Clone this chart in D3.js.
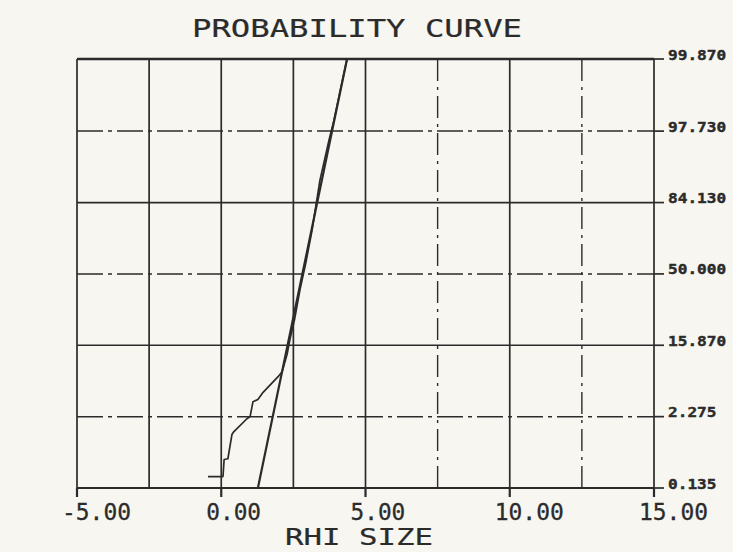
<!DOCTYPE html>
<html><head><meta charset="utf-8">
<script src="https://cdn.jsdelivr.net/npm/d3@7"></script>
<style>body{margin:0;background:#f8f6f1}svg{display:block}</style>
</head><body><svg id="c" width="733" height="552"></svg>
<script>
// ---- data ----
const xTicks = [-5, 0, 5, 10, 15];
const xTickLabels = ["-5.00", "0.00", "5.00", "10.00", "15.00"];
const xGridSolid = [-5, -2.5, 0, 2.5, 5, 10, 15];
const xGridDashed = [7.5, 12.5];
const pTicks = [99.87, 97.73, 84.13, 50, 15.87, 2.275, 0.135];
const pTickLabels = ["99.870", "97.730", "84.130", "50.000", "15.870", "2.275", "0.135"];
const pGridSolid = [84.13, 15.87];
const pGridDashed = [97.73, 50, 2.275];
// fitted normal line
const fitX = [1.27, 4.36];
const fitPct = [0.135, 99.87];
// cumulative (observed) curve
const cumX = [-0.46, 0.06, 0.10, 0.23, 0.37, 0.44, 0.89, 1.00, 1.10, 1.27, 1.45, 1.97, 2.11, 2.28, 2.38, 2.54, 2.73, 2.93, 3.15, 3.42, 3.73, 3.90, 4.36];
const cumPct = [0.226, 0.226, 0.466, 0.48, 1.22, 1.36, 2.12, 2.28, 3.67, 3.92, 4.85, 7.49, 8.53, 12.9, 17.9, 26.1, 41.3, 56.0, 73.2, 90.5, 96.9, 98.4, 99.87];
const title = "PROBABILITY CURVE";
const xTitle = "RHI SIZE";

// inverse normal CDF (probability-paper transform)
function probit(p){
  const a=[-3.969683028665376e+01,2.209460984245205e+02,-2.759285104469687e+02,1.383577518672690e+02,-3.066479806614716e+01,2.506628277459239e+00];
  const b=[-5.447609879822406e+01,1.615858368580409e+02,-1.556989798598866e+02,6.680131188771972e+01,-1.328068155288572e+01];
  const c=[-7.784894002430293e-03,-3.223964580411365e-01,-2.400758277161838e+00,-2.549671010115819e+00,4.374664141464968e+00,2.938163982698783e+00];
  const d=[7.784695709041462e-03,3.224671290700398e-01,2.445134137142996e+00,3.754408661907416e+00];
  const pl=0.02425, ph=1-pl; let q,r;
  if(p<pl){q=Math.sqrt(-2*Math.log(p));return (((((c[0]*q+c[1])*q+c[2])*q+c[3])*q+c[4])*q+c[5])/((((d[0]*q+d[1])*q+d[2])*q+d[3])*q+1);}
  if(p<=ph){q=p-0.5;r=q*q;return (((((a[0]*r+a[1])*r+a[2])*r+a[3])*r+a[4])*r+a[5])*q/(((((b[0]*r+b[1])*r+b[2])*r+b[3])*r+b[4])*r+1);}
  q=Math.sqrt(-2*Math.log(1-p));return -(((((c[0]*q+c[1])*q+c[2])*q+c[3])*q+c[4])*q+c[5])/((((d[0]*q+d[1])*q+d[2])*q+d[3])*q+1);
}

const svg = d3.select("#c");
const L = 77, R = 654, T = 59, B = 488;
const x = d3.scaleLinear().domain([-5, 15]).range([L, R]);
const z = d3.scaleLinear().domain([probit(0.00135), probit(0.9987)]).range([B, T]);
const y = p => z(probit(p / 100));
const ink = "#2b2b2b";
const font = "'DejaVu Sans Mono', monospace";

svg.append("rect").attr("width", 733).attr("height", 552).attr("fill", "#f8f6f1");

const g = svg.append("g");
// vertical grid
g.selectAll(".vs").data(xGridSolid).join("line")
  .attr("x1", d => x(d)).attr("x2", d => x(d)).attr("y1", T).attr("y2", B)
  .attr("stroke", ink).attr("stroke-width", 1.7);
g.selectAll(".vd").data(xGridDashed).join("line")
  .attr("x1", d => x(d)).attr("x2", d => x(d)).attr("y1", T).attr("y2", B)
  .attr("stroke", ink).attr("stroke-width", 1.4).attr("stroke-dasharray", "22,6,3,6");
// horizontal grid
g.selectAll(".hs").data(pGridSolid).join("line")
  .attr("x1", L).attr("x2", R).attr("y1", d => y(d)).attr("y2", d => y(d))
  .attr("stroke", ink).attr("stroke-width", 1.7);
g.selectAll(".hd").data(pGridDashed).join("line")
  .attr("x1", L).attr("x2", R).attr("y1", d => y(d)).attr("y2", d => y(d))
  .attr("stroke", ink).attr("stroke-width", 1.5).attr("stroke-dasharray", "26,5,4,5");
// top border & bottom axis
g.append("line").attr("x1", L).attr("x2", R).attr("y1", y(pTicks[0])).attr("y2", y(pTicks[0]))
  .attr("stroke", ink).attr("stroke-width", 2.4);
g.append("line").attr("x1", L).attr("x2", R).attr("y1", B).attr("y2", B)
  .attr("stroke", ink).attr("stroke-width", 2.2);

// x ticks + labels
g.selectAll(".xt").data(xTicks).join("line")
  .attr("x1", d => x(d)).attr("x2", d => x(d)).attr("y1", B).attr("y2", B + 9)
  .attr("stroke", ink).attr("stroke-width", 2.2);
g.selectAll(".xl").data(xTicks).join("text")
  .attr("x", d => x(d) - 15).attr("y", 520)
  .attr("font-family", font).attr("font-size", 23).attr("fill", ink)
  .attr("stroke", ink).attr("stroke-width", 0.3)
  .attr("textLength", (d, i) => xTickLabels[i].length * 14.2 - 2).attr("lengthAdjust", "spacingAndGlyphs")
  .text((d, i) => xTickLabels[i]);

// right ticks + labels
g.selectAll(".pt").data(pTicks).join("line")
  .attr("x1", R).attr("x2", R + 10).attr("y1", d => y(d)).attr("y2", d => y(d))
  .attr("stroke", ink).attr("stroke-width", 1.7);
g.selectAll(".pl").data(pTicks).join("text")
  .attr("x", 668).attr("y", d => y(d) + 0.5)
  .attr("font-family", font).attr("font-size", 14).attr("font-weight", "bold").attr("fill", ink)
  .attr("stroke", ink).attr("stroke-width", 0.4)
  .attr("textLength", (d, i) => pTickLabels[i].length * 9.7).attr("lengthAdjust", "spacingAndGlyphs")
  .text((d, i) => pTickLabels[i]);

// fitted line
const line = d3.line().x(d => x(d[0])).y(d => y(d[1]));
g.append("path").datum(d3.zip(fitX, fitPct)).attr("d", line)
  .attr("fill", "none").attr("stroke", ink).attr("stroke-width", 2.2);
// observed cumulative curve
g.append("path").datum(d3.zip(cumX, cumPct)).attr("d", line)
  .attr("fill", "none").attr("stroke", ink).attr("stroke-width", 1.7).attr("stroke-linejoin", "round");

// titles
svg.append("text").attr("x", 192).attr("y", 37)
  .attr("font-family", font).attr("font-size", 24).attr("fill", ink)
  .attr("stroke", ink).attr("stroke-width", 0.2)
  .attr("textLength", 330).attr("lengthAdjust", "spacingAndGlyphs").text(title);
svg.append("text").attr("x", 285).attr("y", 545)
  .attr("font-family", font).attr("font-size", 23).attr("fill", ink)
  .attr("stroke", ink).attr("stroke-width", 0.2)
  .attr("textLength", 148).attr("lengthAdjust", "spacingAndGlyphs").text(xTitle);
</script>
</body></html>
